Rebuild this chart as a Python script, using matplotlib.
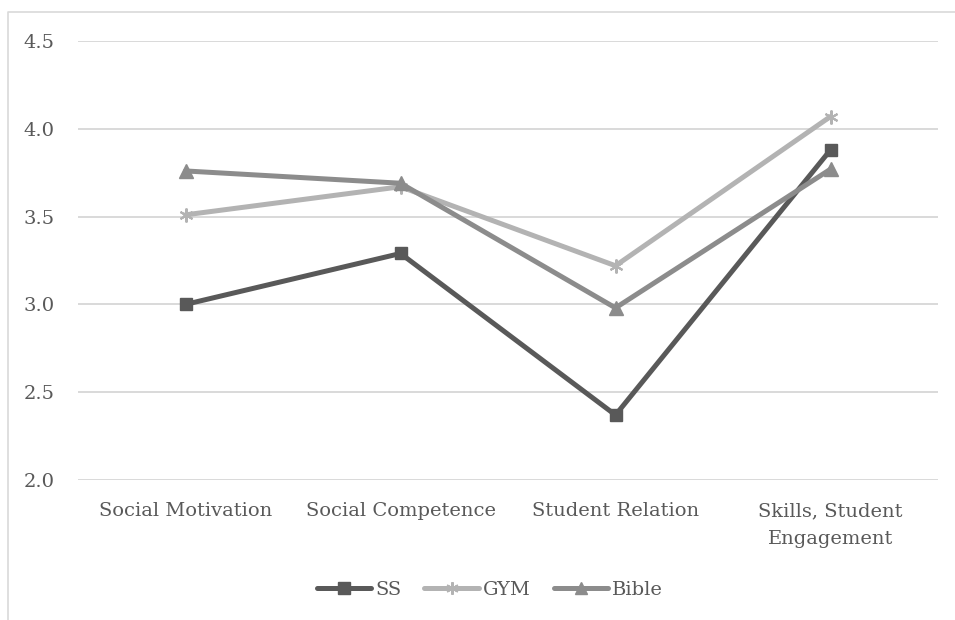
import matplotlib.pyplot as plt
from matplotlib.lines import Line2D

categories = ['Social Motivation', 'Social Competence', 'Student Relation', 'Skills, Student\nEngagement']
ss = [3.00, 3.29, 2.37, 3.88]
gym = [3.51, 3.67, 3.22, 4.07]
bible = [3.76, 3.69, 2.98, 3.77]

text_color = '#595959'
grid_color = '#d9d9d9'
plt.rcParams['font.family'] = ['DejaVu Serif']

fig = plt.figure(figsize=(9.55, 6.2), dpi=100)
ax = fig.add_axes([78 / 955, 1 - 480 / 620, 860 / 955, 439 / 620])

x = range(len(categories))
ax.plot(x, ss, color='#595959', lw=3.6, marker='s', ms=9, label='SS',
        solid_capstyle='round')
ax.plot(x, gym, color='#b3b3b3', lw=3.6, marker=(6, 2, 0), ms=10, mew=1.5, label='GYM',
        solid_capstyle='round')
ax.plot(x, bible, color='#8c8c8c', lw=3.6, marker='^', ms=10, label='Bible',
        solid_capstyle='round')

ax.set_xlim(-0.5, 3.5)
ax.set_ylim(2.0, 4.5)
ax.set_yticks([2.0, 2.5, 3.0, 3.5, 4.0, 4.5])
ax.set_yticklabels([f'{v:.1f}' for v in [2.0, 2.5, 3.0, 3.5, 4.0, 4.5]])
ax.set_xticks(list(x))
ax.set_xticklabels(categories, linespacing=1.7)
ax.tick_params(axis='both', length=0, colors=text_color, labelsize=14)
ax.tick_params(axis='y', pad=17)
ax.tick_params(axis='x', pad=16)
ax.grid(axis='y', color=grid_color, lw=1.4)
ax.set_axisbelow(True)
for s in ax.spines.values():
    s.set_visible(False)

leg = fig.legend(loc='center', bbox_to_anchor=(0.513, 1 - 590 / 620), ncol=3,
                 frameon=False, fontsize=14, handlelength=2.8, handletextpad=0.2,
                 columnspacing=1.2, markerscale=0.9)
for t in leg.get_texts():
    t.set_color(text_color)

# outer chart frame
fig.add_artist(Line2D([8 / 955, 8 / 955, 1.0], [0.0, 1 - 12 / 620, 1 - 12 / 620],
                      transform=fig.transFigure, color=grid_color, lw=1.2))

fig.savefig('out.png', dpi=100)
